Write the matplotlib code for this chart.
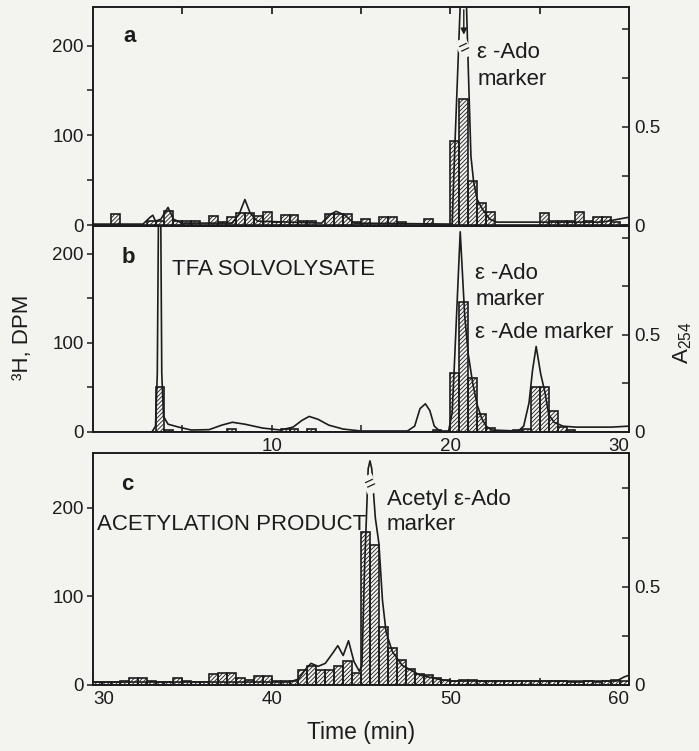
import numpy as np
import matplotlib.pyplot as plt
from matplotlib.ticker import FixedLocator, NullFormatter

plt.rcParams['font.family'] = ['Liberation Sans', 'DejaVu Sans']
plt.rcParams['mathtext.fontset'] = 'custom'
plt.rcParams['mathtext.rm'] = 'Liberation Sans'
plt.rcParams['hatch.linewidth'] = 0.6

# ---------------- data ----------------
# 3H radioactivity per 0.5-min fraction (DPM), fraction start times (min)
frac_start_ab = np.arange(0.0, 30.0, 0.5)
frac_start_c = np.arange(30.0, 60.0, 0.5)

dpm_a = [0, 0, 12, 0, 0, 0, 5, 5, 16, 5,
         5, 5, 0, 10, 3, 9, 14, 14, 10, 15,
         3, 11, 11, 5, 5, 0, 12, 12, 12, 3,
         7, 0, 9, 9, 4, 0, 0, 7, 0, 0,
         94, 140, 49, 25, 15, 0, 0, 0, 0, 0,
         14, 5, 5, 5, 15, 5, 9, 9, 3, 0]

dpm_b = [0, 0, 0, 0, 0, 0, 0, 50, 2, 0,
         0, 0, 0, 0, 0, 3, 0, 0, 0, 0,
         0, 3, 3, 0, 3, 0, 0, 0, 0, 0,
         0, 0, 0, 0, 0, 0, 0, 0, 2, 0,
         66, 146, 60, 20, 4, 0, 0, 2, 3, 50,
         50, 24, 6, 2, 0, 0, 0, 0, 0, 0]

dpm_c = [3, 3, 3, 4, 8, 8, 5, 3, 3, 8,
         4, 3, 3, 12, 14, 14, 8, 6, 10, 10,
         4, 4, 5, 17, 22, 17, 17, 22, 27, 14,
         173, 158, 66, 42, 28, 18, 12, 11, 8, 6,
         5, 6, 6, 5, 4, 5, 5, 4, 5, 4,
         4, 5, 4, 3, 3, 4, 3, 5, 6, 4]

# A254 absorbance traces
a_time = [0, 2.8, 3.2, 3.35, 3.5, 3.8, 4.2, 4.5, 5.0, 7.8, 8.2, 8.5, 8.8, 9.2,
          12.8, 13.2, 13.6, 14.1, 14.6, 20.1, 20.25, 20.5, 20.75, 21.0, 21.15,
          21.3, 21.5, 21.8, 22.2, 22.6, 28.5, 30.0]
a_abs = [0.005, 0.005, 0.04, 0.05, 0.02, 0.03, 0.09, 0.03, 0.01, 0.01, 0.06, 0.13,
         0.06, 0.02, 0.01, 0.05, 0.07, 0.05, 0.01, 0.005, 0.4, 1.0, 1.6, 0.8, 0.35,
         0.22, 0.13, 0.08, 0.03, 0.015, 0.015, 0.04]

b_time = [0, 3.3, 3.5, 3.6, 3.68, 3.78, 3.85, 3.95, 4.2, 4.8,
          5.5, 6.5, 7.2, 7.8, 8.5, 9.5, 10.5, 11.2, 11.7, 12.1,
          12.6, 13.2, 14.0, 15.0, 17.6, 18.0, 18.3, 18.6, 18.85, 19.1,
          19.4, 19.9, 20.1, 20.25, 20.55, 20.8, 21.0, 21.25, 21.5, 21.75,
          22.0, 22.3, 23.8, 24.1, 24.4, 24.6, 24.8, 25.05, 25.3, 25.5,
          25.8, 26.3, 27.0, 29.0, 30.0]
b_abs = [0, 0, 0.03, 0.3, 1.3, 1.3, 0.3, 0.08, 0.04, 0.025,
         0.01, 0.012, 0.035, 0.05, 0.04, 0.02, 0.01, 0.025, 0.06, 0.08,
         0.065, 0.035, 0.015, 0.005, 0.005, 0.03, 0.12, 0.145, 0.11, 0.03,
         0.005, 0.005, 0.1, 0.4, 1.03, 0.6, 0.4, 0.25, 0.14, 0.07,
         0.03, 0.01, 0.005, 0.03, 0.15, 0.32, 0.44, 0.3, 0.2, 0.09,
         0.05, 0.03, 0.025, 0.025, 0.03]

c_time = [30, 41.0, 41.5, 41.9, 42.2, 42.6, 43.0, 43.4, 43.7, 44.0,
          44.3, 44.6, 44.9, 45.05, 45.2, 45.4, 45.5, 45.6, 45.8, 46.0,
          46.2, 46.4, 46.75, 47.3, 48.3, 49.3, 50.0, 59.3, 59.7, 60.0]
c_abs = [0.015, 0.015, 0.03, 0.08, 0.11, 0.095, 0.11, 0.16, 0.2, 0.15,
         0.225, 0.12, 0.07, 0.1, 0.6, 1.1, 1.14, 1.1, 0.85, 0.72,
         0.43, 0.27, 0.17, 0.10, 0.05, 0.03, 0.02, 0.02, 0.04, 0.05]

# ---------------- style ----------------
bg = '#f3f3f0'
ink = '#1c1c1c'
FS_TICK = 13.5
FS_TXT = 16

fig = plt.figure(figsize=(6.99, 7.51), dpi=100, facecolor=bg)
L, W = 0.133, 0.767
axa = fig.add_axes([L, 0.699, W, 0.2917])
axb = fig.add_axes([L, 0.4248, W, 0.2743])
axc = fig.add_axes([L, 0.0879, W, 0.3089])


def panel(ax, starts, dpm, t, a, xlim, ylim_l, ylim_r, minor_y=True):
    ax.set_facecolor('none')
    ax.bar(starts, dpm, width=0.5, align='edge', facecolor='none',
           edgecolor=ink, hatch='////////', linewidth=1.2, zorder=2)
    ax.set_xlim(*xlim)
    ax.set_ylim(*ylim_l)
    ax.yaxis.set_major_locator(FixedLocator([0, 100, 200]))
    if minor_y:
        ax.yaxis.set_minor_locator(FixedLocator([50, 150]))
    ax.tick_params(axis='y', which='both', direction='out', length=4.5,
                   width=1.1, labelsize=FS_TICK, pad=2, colors=ink)
    for s in ax.spines.values():
        s.set_linewidth(1.2)
        s.set_color(ink)
    axr = ax.twinx()
    axr.plot(t, a, color=ink, lw=1.2, zorder=3)
    axr.set_ylim(*ylim_r)
    axr.set_yticks([0, 0.25, 0.5, 0.75, 1.0])
    axr.set_yticklabels(['0', '', '0.5', '', ''])
    axr.tick_params(axis='y', direction='in', length=5, width=1.1,
                    labelsize=FS_TICK, pad=4, colors=ink)
    for s in axr.spines.values():
        s.set_linewidth(1.2)
        s.set_color(ink)
    return axr


ra = panel(axa, frac_start_ab, dpm_a, a_time, a_abs, (0, 30), (-1, 243), (-0.005, 1.11))
rb = panel(axb, frac_start_ab, dpm_b, b_time, b_abs, (0, 30), (0, 231), (0, 1.06))
rc = panel(axc, frac_start_c, dpm_c, c_time, c_abs, (30, 60), (0, 262), (0, 1.18), minor_y=False)

# x ticks
axa.xaxis.set_ticks_position('top')
axa.xaxis.set_major_locator(FixedLocator([5, 10, 15, 20, 25]))
axa.xaxis.set_major_formatter(NullFormatter())
axa.tick_params(axis='x', direction='in', length=5, width=1.1)

axb.xaxis.set_major_locator(FixedLocator([10, 20, 30]))
axb.xaxis.set_minor_locator(FixedLocator([5, 15, 25]))
axb.tick_params(axis='x', which='both', direction='in', length=5, width=1.1,
                labelsize=FS_TICK, pad=4, colors=ink)

axc.xaxis.set_major_locator(FixedLocator([30, 40, 50, 60]))
axc.xaxis.set_minor_locator(FixedLocator([35, 45, 55]))
axc.tick_params(axis='x', which='both', direction='in', length=5, width=1.1,
                labelsize=FS_TICK, pad=4, colors=ink)

# edge tick labels sit inside the frame, as in the original
fig.canvas.draw()
axb.get_xticklabels()[-1].set_horizontalalignment('right')
axc.get_xticklabels()[0].set_horizontalalignment('left')
axc.get_xticklabels()[-1].set_horizontalalignment('right')

# off-scale peaks: break marks (and arrow in panel a)
def add_break(axr, t, a, level):
    tp = t[int(np.argmax(a))]
    axr.text(tp, level, '=', rotation=25, ha='center', va='center',
             fontsize=13, color=ink, zorder=5,
             bbox=dict(boxstyle='square,pad=0.05', facecolor=bg, edgecolor='none'))
    return tp

tpa = add_break(ra, a_time, a_abs, 0.90)
ra.annotate('', xy=(tpa, 0.955), xytext=(tpa, 1.11),
            arrowprops=dict(arrowstyle='-|>', color=ink, lw=1.0, mutation_scale=9),
            zorder=6)
add_break(rc, c_time, c_abs, 1.02)

# panel texts
tk = dict(color=ink, fontsize=FS_TXT, va='center', ha='left', zorder=6)
axa.text(1.7, 210, 'a', fontweight='bold', **tk)
axa.text(21.5, 192, 'ε -Ado', **tk)
axa.text(21.5, 162, 'marker', **tk)

axb.text(1.6, 196, 'b', fontweight='bold', **tk)
axb.text(4.4, 182, 'TFA SOLVOLYSATE', **tk)
axb.text(21.4, 178, 'ε -Ado', **tk)
axb.text(21.4, 149, 'marker', **tk)
axb.text(21.4, 111, 'ε -Ade marker', **tk)

axc.text(31.6, 226, 'c', fontweight='bold', **tk)
axc.text(30.2, 181, 'ACETYLATION PRODUCT', **tk)
axc.text(46.45, 209, 'Acetyl ε-Ado', **tk)
axc.text(46.45, 181, 'marker', **tk)

# axis titles
fig.text(0.032, 0.551, '³H, DPM', rotation=90, ha='center', va='center',
         fontsize=FS_TXT, color=ink)
fig.text(0.977, 0.543, r'A$_{254}$', rotation=90, ha='center', va='center',
         fontsize=FS_TXT, color=ink)
fig.text(0.5165, 0.024, 'Time (min)', ha='center', va='center',
         fontsize=16.5, color=ink)

fig.savefig('out.png', dpi=100, facecolor=bg)
